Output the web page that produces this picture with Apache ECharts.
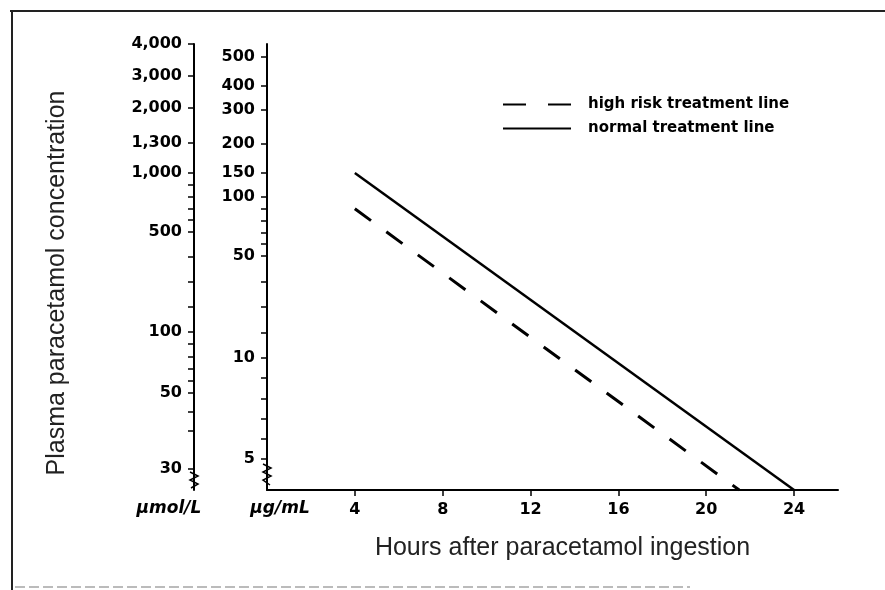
<!DOCTYPE html>
<html>
<head>
<meta charset="utf-8">
<script src="https://cdn.jsdelivr.net/npm/echarts@6/dist/echarts.min.js"></script>
<style>html,body{margin:0;padding:0;background:#fff}#c{width:885px;height:590px}</style>
</head>
<body>
<div id="c"></div>
<script>
// ---------------- data ----------------
const hourTicks = [4, 8, 12, 16, 20, 24];
const ugTicks = [5, 10, 50, 100, 150, 200, 300, 400, 500];            // µg/mL labels
const umolTicks = [30, 50, 100, 500, 1000, 1300, 2000, 3000, 4000];   // µmol/L labels
const ugMinorTicks = [6, 7, 8, 9, 20, 30, 40, 60, 70, 80, 90];
const umolMinorTicks = [40, 45, 60, 70, 80, 90, 200, 300, 400, 600, 700, 800, 900];
const normalHours = [4, 24];
const normalLevel = [150, 4];        // µg/mL
const highRiskHours = [4, 21.5];
const highRiskLevel = [90, 4];       // µg/mL

// ------- the nomogram's printed (non-uniform) concentration scales -------
// value -> height along the axis, in % of the axis height (0 = time axis, 100 = top)
const ugScaleValues = [4, 5, 10, 50, 100, 150, 200, 300, 400, 500, 560];
const ugScaleHeights = [0, 6.95, 29.6, 52.47, 65.7, 71.08, 77.58, 85.2, 90.58, 97.09, 100];
const umolScaleValues = [25, 30, 50, 100, 500, 1000, 1300, 2000, 3000, 4000];
const umolScaleHeights = [0, 4.71, 21.75, 35.43, 57.85, 71.08, 77.8, 85.65, 92.83, 100];

function makeScale(vals, hs) {
  return function (v) {
    for (let i = 0; i < vals.length - 1; i++) {
      if (v >= vals[i] && v <= vals[i + 1]) {
        const t = (v - vals[i]) / (vals[i + 1] - vals[i]);
        return hs[i] + t * (hs[i + 1] - hs[i]);
      }
    }
    return v < vals[0] ? hs[0] : hs[hs.length - 1];
  };
}
const ugPos = makeScale(ugScaleValues, ugScaleHeights);
const umolPos = makeScale(umolScaleValues, umolScaleHeights);

function labelMap(ticks, pos, fmt) {
  const m = {};
  ticks.forEach(t => { m[pos(t).toFixed(4)] = fmt(t); });
  return v => (m[Number(v).toFixed(4)] !== undefined ? m[Number(v).toFixed(4)] : '');
}
const fmtThousands = v => v.toLocaleString('en-US');

const tickFont = { fontFamily: 'DejaVu Sans', fontWeight: 'bold', fontSize: 16, color: '#000' };

const chart = echarts.init(document.getElementById('c'), null, { renderer: 'canvas' });
chart.setOption({
  animation: false,
  backgroundColor: '#fff',
  grid: { left: 267, right: 47, top: 44, bottom: 100 },
  legend: {
    orient: 'vertical', left: 497, top: 92,
    itemWidth: 68, itemHeight: 14, itemGap: 9,
    itemStyle: { opacity: 0, borderWidth: 0 },
    textStyle: { fontFamily: 'DejaVu Sans', fontWeight: 'bold', fontSize: 15, color: '#000', padding: [0, 0, 0, 12] },
    data: [
      { name: 'high risk treatment line', lineStyle: { type: [23, 22] } },
      { name: 'normal treatment line' }
    ]
  },
  xAxis: {
    type: 'value', min: 0, max: 26,
    axisLine: { onZero: false, lineStyle: { color: '#000', width: 2 } },
    axisTick: { show: true, customValues: hourTicks, length: 6, lineStyle: { color: '#000', width: 1.5 } },
    axisLabel: Object.assign({ customValues: hourTicks, margin: 12 }, tickFont),
    splitLine: { show: false },
    name: 'Hours after paracetamol ingestion', nameLocation: 'middle', nameGap: 46,
    nameTextStyle: { fontFamily: 'Liberation Sans', fontSize: 25, color: '#222', padding: [0, 0, 0, 20] }
  },
  yAxis: [
    {
      type: 'value', min: 0, max: 100, position: 'left', offset: 0,
      axisLine: { show: true, onZero: false, lineStyle: { color: '#000', width: 2 } },
      axisTick: { show: true, customValues: ugTicks.concat(ugMinorTicks).map(ugPos), length: 6, lineStyle: { color: '#000', width: 1.5 } },
      axisLabel: Object.assign({ customValues: ugTicks.map(ugPos), margin: 12, formatter: labelMap(ugTicks, ugPos, String) }, tickFont),
      splitLine: { show: false },
      name: 'µg/mL', nameLocation: 'start', nameGap: 10,
      nameTextStyle: { fontFamily: 'DejaVu Sans', fontWeight: 'bold', fontStyle: 'italic', fontSize: 17, color: '#000', padding: [0, 0, 0, 26] }
    },
    {
      type: 'value', min: 0, max: 100, position: 'left', offset: 73,
      axisLine: { show: true, onZero: false, lineStyle: { color: '#000', width: 2 } },
      axisTick: { show: true, customValues: umolTicks.concat(umolMinorTicks).map(umolPos), length: 6, lineStyle: { color: '#000', width: 1.5 } },
      axisLabel: Object.assign({ customValues: umolTicks.map(umolPos), margin: 12, formatter: labelMap(umolTicks, umolPos, fmtThousands) }, tickFont),
      splitLine: { show: false },
      name: 'µmol/L', nameLocation: 'start', nameGap: 10,
      nameTextStyle: { fontFamily: 'DejaVu Sans', fontWeight: 'bold', fontStyle: 'italic', fontSize: 17, color: '#000', padding: [0, 50, 0, 0] }
    },
    {
      type: 'value', min: 0, max: 100, position: 'left', offset: 73,
      axisLine: { show: false, onZero: false }, axisTick: { show: false }, axisLabel: { show: false }, splitLine: { show: false },
      name: 'Plasma paracetamol concentration', nameLocation: 'middle', nameRotate: 90, nameGap: 124,
      nameTextStyle: { fontFamily: 'Liberation Sans', fontSize: 25, color: '#222', padding: [0, 32, 0, 0] }
    }
  ],
  series: [
    {
      name: 'normal treatment line', type: 'line', yAxisIndex: 0, symbol: 'none',
      data: normalHours.map((h, i) => [h, ugPos(normalLevel[i])]),
      lineStyle: { color: '#000', width: 2.5 }, itemStyle: { color: '#000' }
    },
    {
      name: 'high risk treatment line', type: 'line', yAxisIndex: 0, symbol: 'none',
      data: highRiskHours.map((h, i) => [h, ugPos(highRiskLevel[i])]),
      lineStyle: { color: '#000', width: 3, type: [20, 19] }, itemStyle: { color: '#000' }
    }
  ],
  graphic: [
    { type: 'line', shape: { x1: 10, y1: 11, x2: 885, y2: 11 }, style: { stroke: '#222', lineWidth: 2 } },
    { type: 'line', shape: { x1: 12, y1: 11, x2: 12, y2: 590 }, style: { stroke: '#222', lineWidth: 2 } },
    { type: 'line', shape: { x1: 15, y1: 587, x2: 690, y2: 587 }, style: { stroke: '#bbb', lineWidth: 2, lineDash: [10, 4] } },
    { type: 'polyline', shape: { points: [[190, 472], [198, 476], [190, 480], [198, 484], [191, 488]] }, style: { stroke: '#000', lineWidth: 1.5, fill: null } },
    { type: 'polyline', shape: { points: [[263, 464], [271, 468], [263, 472], [271, 476], [263, 480], [270, 485]] }, style: { stroke: '#000', lineWidth: 1.5, fill: null } }
  ]
});
</script>
</body>
</html>
